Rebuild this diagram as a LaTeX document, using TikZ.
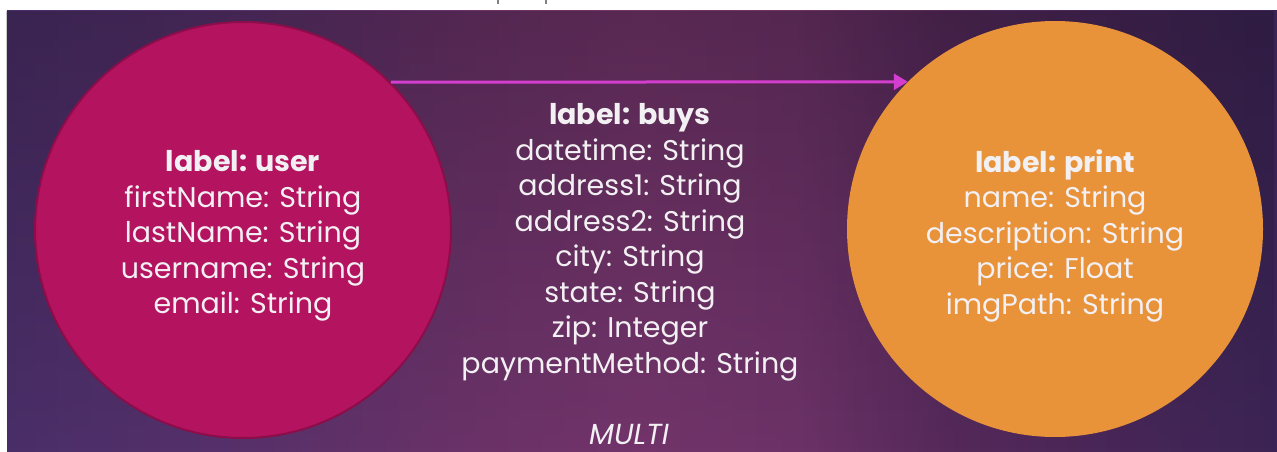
\documentclass[tikz,border=0pt]{standalone}
\usepackage{fontspec}
\setmainfont{Poppins}
\usetikzlibrary{arrows.meta,fadings}

\definecolor{bgA}{HTML}{4A2E68}
\definecolor{bgB}{HTML}{55306A}
\definecolor{bgC}{HTML}{6A3268}
\definecolor{bgD}{HTML}{72346A}
\definecolor{bgE}{HTML}{6C3267}
\definecolor{bgF}{HTML}{55295A}
\definecolor{bgG}{HTML}{3B2455}
\definecolor{usercol}{HTML}{B3135F}
\definecolor{userline}{HTML}{8C0D4A}
\definecolor{printcol}{HTML}{E8923A}
\definecolor{edgecol}{HTML}{D43ECF}
\definecolor{txt}{HTML}{F3F0F3}

% the path box spans 25bp..75bp of the shading
\pgfdeclarehorizontalshading{slidebg}{100bp}{
  color(0bp)=(bgA); color(25bp)=(bgA); color(33bp)=(bgB); color(43bp)=(bgC);
  color(50bp)=(bgD); color(56bp)=(bgE); color(62bp)=(bgF); color(75bp)=(bgG);
  color(100bp)=(bgG)}
\tikzfading[name=darktop, top color=transparent!78, bottom color=transparent!100]

\tikzset{
  entity/.style={circle, minimum size=416pt, inner sep=0pt},
  proplist/.style={text=txt, align=center, font=\fontsize{28.5}{35.5}\selectfont},
  relation/.style={draw=edgecol, line width=3pt, -{Triangle[length=14pt,width=16pt]}},
}

\begin{document}
\begin{tikzpicture}[x=1pt,y=-1pt]
\useasboundingbox (0,0) rectangle (1277,452);
\fill[white] (0,0) rectangle (1277,452);

% slide background
\shade[shading=slidebg] (7,11) rectangle (1277,452);
\fill[black, path fading=darktop] (7,11) rectangle (1277,452);

% descenders of the clipped title line
\draw[gray, line width=1.2pt] (498,0) -- (498,4);
\draw[gray, line width=1.2pt] (546,0) -- (546,4);

% entities
\node[entity, fill=usercol, draw=userline, line width=2pt] (user) at (243,230) {};
\node[entity, fill=printcol] (print) at (1055,229) {};
\node[proplist] (userprops) at (243,236)
  {\textbf{label: user}\\firstName: String\\lastName: String\\username: String\\email: String};
\node[proplist] (printprops) at (1055,235.5)
  {\textbf{label: print}\\name: String\\description: String\\price: Float\\imgPath: String};

% relationship
\draw[relation] (user.45) -- (print.135);
\node[proplist] (buys) at (630,242.5)
  {\textbf{label: buys}\\datetime: String\\address1: String\\address2: String\\city: String\\state: String\\zip: Integer\\paymentMethod: String};
\node[text=txt, font=\fontsize{29}{32}\selectfont\itshape] (multi) at (629,434) {MULTI};
\end{tikzpicture}
\end{document}
